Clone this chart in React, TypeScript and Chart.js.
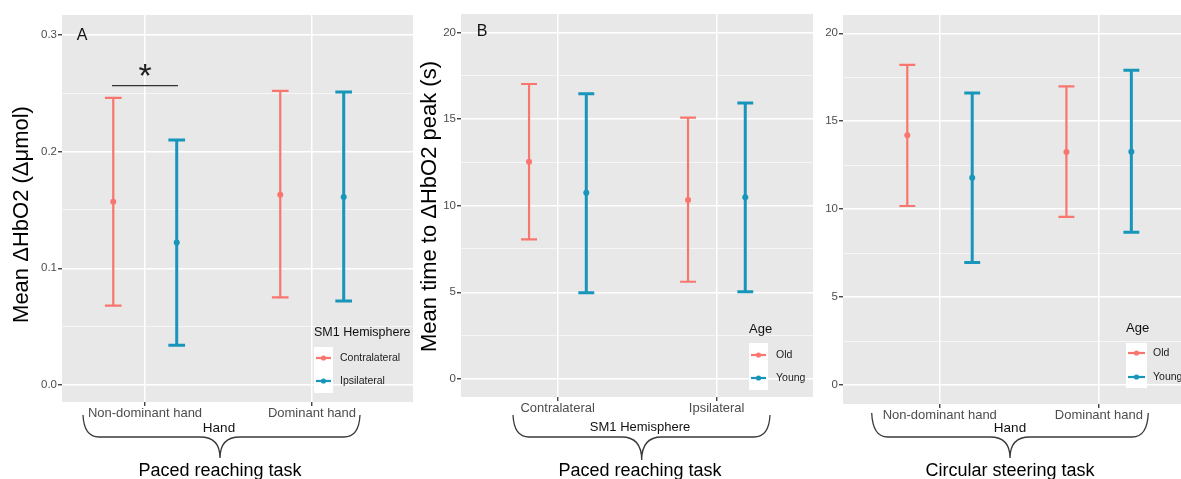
import React, { useEffect, useRef } from "react";
import { Chart, registerables } from "chart.js";

Chart.register(...registerables);

const FONT = '"Liberation Sans", Arial, Helvetica, sans-serif';
const RED = "#F8766D";
const TEAL = "#1795BB";
const PANEL_BG = "#E8E8E8";
const TICK_TEXT = "#4D4D4D";

// ---------------- Data ----------------
const handCategories = ["Non-dominant hand", "Dominant hand"];
const hemisphereCategories = ["Contralateral", "Ipsilateral"];
const hemisphereLegend = ["Contralateral", "Ipsilateral"];
const ageLegend = ["Old", "Young"];

const hboTicks = [0, 0.05, 0.1, 0.15, 0.2, 0.25, 0.3];
const hboMajorTicks = [0, 0.1, 0.2, 0.3];
const timeTicks = [0, 2.5, 5, 7.5, 10, 12.5, 15, 17.5, 20];
const timeMajorTicks = [0, 5, 10, 15, 20];

// Panel A: Mean ΔHbO2, by hand, series = SM1 hemisphere
const aContraMean = [0.157, 0.163];
const aContraLow = [0.068, 0.075];
const aContraHigh = [0.246, 0.252];
const aIpsiMean = [0.122, 0.161];
const aIpsiLow = [0.034, 0.072];
const aIpsiHigh = [0.21, 0.251];

// Panel B: time to peak, by hemisphere, series = age (paced reaching)
const bOldMean = [12.54, 10.33];
const bOldLow = [8.06, 5.61];
const bOldHigh = [17.02, 15.08];
const bYoungMean = [10.75, 10.48];
const bYoungLow = [4.98, 5.04];
const bYoungHigh = [16.46, 15.93];

// Panel C: time to peak, by hand, series = age (circular steering)
const cOldMean = [14.2, 13.25];
const cOldLow = [10.18, 9.56];
const cOldHigh = [18.2, 16.98];
const cYoungMean = [11.79, 13.27];
const cYoungLow = [6.96, 8.69];
const cYoungHigh = [16.61, 17.9];

// ---------------- Helpers ----------------
const CAP_WIDTH = 0.1;
const H = 479;

type Series = {
  label: string;
  color: string;
  lw: number;
  mean: number[];
  low: number[];
  high: number[];
};

type Panel = {
  left: number;
  width: number;
  area: { l: number; t: number; r: number; b: number };
  xMin: number;
  xMax: number;
  yMin: number;
  yMax: number;
  yTicks: number[];
  yMajor: number[];
  yFmt: (v: number) => string;
  categories: string[];
  series: Series[];
  dodge: number;
  decorate: (ctx: CanvasRenderingContext2D) => void;
};

function isIn(v: number, arr: number[]) {
  return arr.some((m) => Math.abs(m - v) < 1e-9);
}

function text(
  ctx: CanvasRenderingContext2D,
  s: string,
  x: number,
  y: number,
  size: number,
  color: string,
  align: CanvasTextAlign = "center",
  baseline: CanvasTextBaseline = "middle"
) {
  ctx.save();
  ctx.font = `${size}px ${FONT}`;
  ctx.fillStyle = color;
  ctx.textAlign = align;
  ctx.textBaseline = baseline;
  ctx.fillText(s, x, y);
  ctx.restore();
}

function rotText(ctx: CanvasRenderingContext2D, s: string, cx: number, cy: number, size: number) {
  ctx.save();
  ctx.translate(cx, cy);
  ctx.rotate(-Math.PI / 2);
  ctx.font = `${size}px ${FONT}`;
  ctx.fillStyle = "#000";
  ctx.textAlign = "center";
  ctx.textBaseline = "middle";
  ctx.fillText(s, 0, 0);
  ctx.restore();
}

function brace(
  ctx: CanvasRenderingContext2D,
  x1: number,
  x2: number,
  xm: number,
  yTop: number,
  yMid: number,
  yTip: number
) {
  const r = 16;
  const r2 = 20;
  ctx.save();
  ctx.strokeStyle = "#3a3a3a";
  ctx.lineWidth = 1.3;
  ctx.beginPath();
  ctx.moveTo(x1, yTop);
  ctx.quadraticCurveTo(x1 + 1, yMid, x1 + r, yMid);
  ctx.lineTo(xm - r2, yMid);
  ctx.quadraticCurveTo(xm, yMid, xm, yTip);
  ctx.moveTo(x2, yTop);
  ctx.quadraticCurveTo(x2 - 1, yMid, x2 - r, yMid);
  ctx.lineTo(xm + r2, yMid);
  ctx.quadraticCurveTo(xm, yMid, xm, yTip);
  ctx.stroke();
  ctx.restore();
}

function legend(
  ctx: CanvasRenderingContext2D,
  title: string,
  titleSize: number,
  x: number,
  titleY: number,
  boxTop: number,
  boxW: number,
  boxH: number,
  itemYs: number[],
  labels: string[],
  colors: string[],
  textX: number
) {
  text(ctx, title, x, titleY, titleSize, "#111", "left");
  ctx.save();
  ctx.fillStyle = "#FFFFFF";
  ctx.fillRect(x, boxTop, boxW, boxH);
  labels.forEach((lab, i) => {
    const y = itemYs[i];
    ctx.strokeStyle = colors[i];
    ctx.lineWidth = 2.2;
    ctx.beginPath();
    ctx.moveTo(x + 2, y);
    ctx.lineTo(x + boxW - 2, y);
    ctx.stroke();
    ctx.fillStyle = colors[i];
    ctx.beginPath();
    ctx.arc(x + boxW / 2, y, 2.6, 0, Math.PI * 2);
    ctx.fill();
    text(ctx, lab, textX, y, 10.5, "#222", "left");
  });
  ctx.restore();
}

const errorBarPlugin = {
  id: "errorBars",
  beforeDatasetsDraw(chart: any) {
    const ctx = chart.ctx as CanvasRenderingContext2D;
    const xs = chart.scales.x;
    const ys = chart.scales.y;
    chart.data.datasets.forEach((ds: any) => {
      ds.data.forEach((pt: any, i: number) => {
        const x = xs.getPixelForValue(pt.x);
        const half = xs.getPixelForValue(pt.x + CAP_WIDTH / 2) - x;
        const yl = ys.getPixelForValue(ds.errLow[i]);
        const yh = ys.getPixelForValue(ds.errHigh[i]);
        ctx.save();
        ctx.strokeStyle = ds.borderColor;
        ctx.lineWidth = ds.errWidth;
        ctx.beginPath();
        ctx.moveTo(x, yl);
        ctx.lineTo(x, yh);
        ctx.moveTo(x - half, yl);
        ctx.lineTo(x + half, yl);
        ctx.moveTo(x - half, yh);
        ctx.lineTo(x + half, yh);
        ctx.stroke();
        ctx.restore();
      });
    });
  },
};

function makeConfig(p: Panel): any {
  const X_AXIS_H = 30;
  const nS = p.series.length;
  const datasets = p.series.map((s, si) => {
    const off = (si - (nS - 1) / 2) * 2 * p.dodge;
    return {
      type: "scatter",
      label: s.label,
      data: s.mean.map((m, i) => ({ x: i + 1 + off, y: m })),
      errLow: s.low,
      errHigh: s.high,
      errWidth: s.lw,
      borderColor: s.color,
      backgroundColor: s.color,
      pointRadius: 3,
      pointBorderWidth: 0,
      pointHoverRadius: 3,
    };
  });
  return {
    type: "scatter",
    data: { datasets },
    options: {
      responsive: false,
      animation: false,
      events: [],
      layout: {
        autoPadding: false,
        padding: {
          left: 0,
          top: p.area.t,
          right: p.width - p.area.r,
          bottom: H - p.area.b - X_AXIS_H,
        },
      },
      plugins: {
        legend: { display: false },
        tooltip: { enabled: false },
        title: { display: false },
      },
      scales: {
        x: {
          type: "linear",
          min: p.xMin,
          max: p.xMax,
          afterBuildTicks: (s: any) => {
            s.ticks = p.categories.map((_, i) => ({ value: i + 1 }));
          },
          afterFit: (s: any) => {
            s.height = X_AXIS_H;
          },
          ticks: {
            autoSkip: false,
            maxRotation: 0,
            padding: 0,
            color: TICK_TEXT,
            font: { family: FONT, size: 13 },
            callback: (v: number) => p.categories[Math.round(v) - 1] ?? "",
          },
          grid: {
            color: "#FFFFFF",
            lineWidth: 1.5,
            tickLength: 4,
            tickColor: "#333333",
            tickWidth: 1.3,
          },
          border: { display: false },
        },
        y: {
          type: "linear",
          min: p.yMin,
          max: p.yMax,
          afterBuildTicks: (s: any) => {
            s.ticks = p.yTicks.map((v) => ({ value: v }));
          },
          afterFit: (s: any) => {
            s.width = p.area.l;
          },
          ticks: {
            autoSkip: false,
            padding: 1,
            color: TICK_TEXT,
            font: { family: FONT, size: 11.5 },
            callback: (v: number) => (isIn(v, p.yMajor) ? p.yFmt(v) : ""),
          },
          grid: {
            color: (c: any) =>
              c.tick && isIn(c.tick.value, p.yMajor) ? "#FFFFFF" : "rgba(255,255,255,0.85)",
            lineWidth: (c: any) => (c.tick && isIn(c.tick.value, p.yMajor) ? 1.5 : 0.7),
            tickLength: 4,
            tickColor: (c: any) =>
              c.tick && isIn(c.tick.value, p.yMajor) ? "#333333" : "rgba(0,0,0,0)",
            tickWidth: 1.3,
          },
          border: { display: false },
        },
      },
    },
    plugins: [
      {
        id: "panelBg",
        beforeDraw(chart: any) {
          const a = chart.chartArea;
          const ctx = chart.ctx;
          ctx.save();
          ctx.fillStyle = PANEL_BG;
          ctx.fillRect(a.left, a.top, a.right - a.left, a.bottom - a.top);
          ctx.restore();
        },
      },
      errorBarPlugin,
      {
        id: "decorate",
        afterDraw(chart: any) {
          const ctx = chart.ctx as CanvasRenderingContext2D;
          ctx.save();
          ctx.translate(-p.left, 0);
          p.decorate(ctx);
          ctx.restore();
        },
      },
    ],
  };
}

const panels: Panel[] = [
  {
    left: 0,
    width: 415,
    area: { l: 62, t: 15, r: 413, b: 402 },
    xMin: 0.503,
    xMax: 2.605,
    yMin: -0.0146,
    yMax: 0.317,
    yTicks: hboTicks,
    yMajor: hboMajorTicks,
    yFmt: (v) => v.toFixed(1),
    categories: handCategories,
    dodge: 0.19,
    series: [
      { label: hemisphereLegend[0], color: RED, lw: 2.2, mean: aContraMean, low: aContraLow, high: aContraHigh },
      { label: hemisphereLegend[1], color: TEAL, lw: 3, mean: aIpsiMean, low: aIpsiLow, high: aIpsiHigh },
    ],
    decorate: (ctx) => {
      rotText(ctx, "Mean ΔHbO2 (Δμmol)", 22, 214.5, 22);
      text(ctx, "A", 82, 36, 16, "#111");
      // significance marker
      ctx.save();
      ctx.strokeStyle = "#333";
      ctx.lineWidth = 1.2;
      ctx.beginPath();
      ctx.moveTo(112, 85.7);
      ctx.lineTo(178, 85.7);
      ctx.stroke();
      ctx.font = `34px ${FONT}`;
      ctx.fillStyle = "#222";
      ctx.textAlign = "center";
      ctx.textBaseline = "alphabetic";
      const m = ctx.measureText("*");
      ctx.fillText("*", 145, 70 + (m.actualBoundingBoxAscent - m.actualBoundingBoxDescent) / 2);
      ctx.restore();
      text(ctx, "Hand", 219, 428, 13.5, "#111");
      brace(ctx, 83, 360, 220, 415, 437, 458);
      text(ctx, "Paced reaching task", 220, 476, 18, "#000", "center", "alphabetic");
      legend(ctx, "SM1 Hemisphere", 12.5, 314, 333, 347, 19, 46, [358, 381], hemisphereLegend, [RED, TEAL], 340);
    },
  },
  {
    left: 415,
    width: 405,
    area: { l: 46, t: 14, r: 398, b: 397 },
    xMin: 0.392,
    xMax: 2.606,
    yMin: -1.04,
    yMax: 21.06,
    yTicks: timeTicks,
    yMajor: timeMajorTicks,
    yFmt: (v) => String(v),
    categories: hemisphereCategories,
    dodge: 0.18,
    series: [
      { label: ageLegend[0], color: RED, lw: 2.2, mean: bOldMean, low: bOldLow, high: bOldHigh },
      { label: ageLegend[1], color: TEAL, lw: 3, mean: bYoungMean, low: bYoungLow, high: bYoungHigh },
    ],
    decorate: (ctx) => {
      rotText(ctx, "Mean time to ΔHbO2 peak (s)", 430, 206.5, 22);
      text(ctx, "B", 482, 32, 16, "#111");
      text(ctx, "SM1 Hemisphere", 640, 427, 13, "#111");
      brace(ctx, 513, 770, 641.7, 415, 437, 460);
      text(ctx, "Paced reaching task", 640, 476, 18, "#000", "center", "alphabetic");
      legend(ctx, "Age", 13, 749, 329, 343, 19, 47, [355, 378], ageLegend, [RED, TEAL], 776);
    },
  },
  {
    left: 820,
    width: 361,
    area: { l: 23, t: 15, r: 361, b: 404 },
    xMin: 0.392,
    xMax: 2.516,
    yMin: -1.08,
    yMax: 21.04,
    yTicks: timeTicks,
    yMajor: timeMajorTicks,
    yFmt: (v) => String(v),
    categories: handCategories,
    dodge: 0.204,
    series: [
      { label: ageLegend[0], color: RED, lw: 2.2, mean: cOldMean, low: cOldLow, high: cOldHigh },
      { label: ageLegend[1], color: TEAL, lw: 3, mean: cYoungMean, low: cYoungLow, high: cYoungHigh },
    ],
    decorate: (ctx) => {
      text(ctx, "Hand", 1010, 428, 13.5, "#111");
      brace(ctx, 871.7, 1148.3, 1010, 413, 437, 458);
      text(ctx, "Circular steering task", 1010, 476, 18, "#000", "center", "alphabetic");
      legend(ctx, "Age", 13, 1126, 328, 343, 21, 45, [353, 377], ageLegend, [RED, TEAL], 1153);
    },
  },
];

function PanelChart({ p }: { p: Panel }) {
  const ref = useRef<HTMLCanvasElement | null>(null);
  useEffect(() => {
    if (!ref.current) return;
    const chart = new Chart(ref.current, makeConfig(p));
    return () => chart.destroy();
  }, [p]);
  return (
    <canvas
      ref={ref}
      width={p.width}
      height={H}
      style={{ position: "absolute", left: p.left, top: 0, width: p.width, height: H }}
    />
  );
}

export default function App() {
  return (
    <div
      style={{
        position: "fixed",
        left: 0,
        top: 0,
        width: 1181,
        height: 479,
        background: "#FFFFFF",
        overflow: "hidden",
      }}
    >
      {panels.map((p, i) => (
        <PanelChart key={i} p={p} />
      ))}
    </div>
  );
}
